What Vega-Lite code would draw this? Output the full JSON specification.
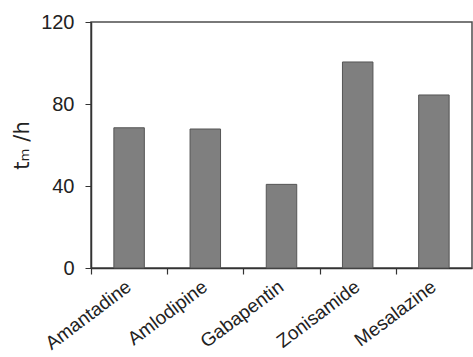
{
  "$schema": "https://vega.github.io/schema/vega-lite/v6.json",
  "width": 381,
  "height": 246,
  "autosize": "none",
  "padding": {"left": 91, "top": 22, "right": 1, "bottom": 89},
  "background": "white",
  "config": {
    "view": {"stroke": "#4d4d4d", "strokeWidth": 1.5},
    "font": "Liberation Sans"
  },
  "data": {
    "values": [
      {"drug": "Amantadine", "t": 68.4},
      {"drug": "Amlodipine", "t": 67.8},
      {"drug": "Gabapentin", "t": 40.8},
      {"drug": "Zonisamide", "t": 100.5},
      {"drug": "Mesalazine", "t": 84.4}
    ]
  },
  "mark": {"type": "bar", "color": "#7f7f7f", "stroke": "#555555", "strokeWidth": 1},
  "encoding": {
    "x": {
      "field": "drug",
      "type": "nominal",
      "sort": null,
      "scale": {"paddingInner": 0.6, "paddingOuter": 0.3},
      "axis": {
        "title": null,
        "domainColor": "#333333",
        "domainWidth": 1.5,
        "tickColor": "#333333",
        "tickWidth": 1.2,
        "tickSize": 6,
        "tickOffset": -38.1,
        "labelOffset": 32,
        "labelAngle": -37,
        "labelAlign": "right",
        "labelBaseline": "top",
        "labelPadding": 3,
        "labelFontSize": 19,
        "labelColor": "#222222",
        "labelFont": "Liberation Sans"
      }
    },
    "y": {
      "field": "t",
      "type": "quantitative",
      "scale": {"domain": [0, 120], "nice": false},
      "axis": {
        "title": "tₘ /h",
        "titleFont": "DejaVu Sans",
        "titleFontSize": 21,
        "titleFontWeight": "normal",
        "titleColor": "#222222",
        "titlePadding": 8,
        "values": [0, 40, 80, 120],
        "grid": false,
        "domainColor": "#333333",
        "domainWidth": 1.5,
        "tickColor": "#333333",
        "tickSize": 6,
        "labelFontSize": 20,
        "labelColor": "#222222",
        "labelPadding": 11,
        "labelFont": "Liberation Sans"
      }
    }
  }
}
